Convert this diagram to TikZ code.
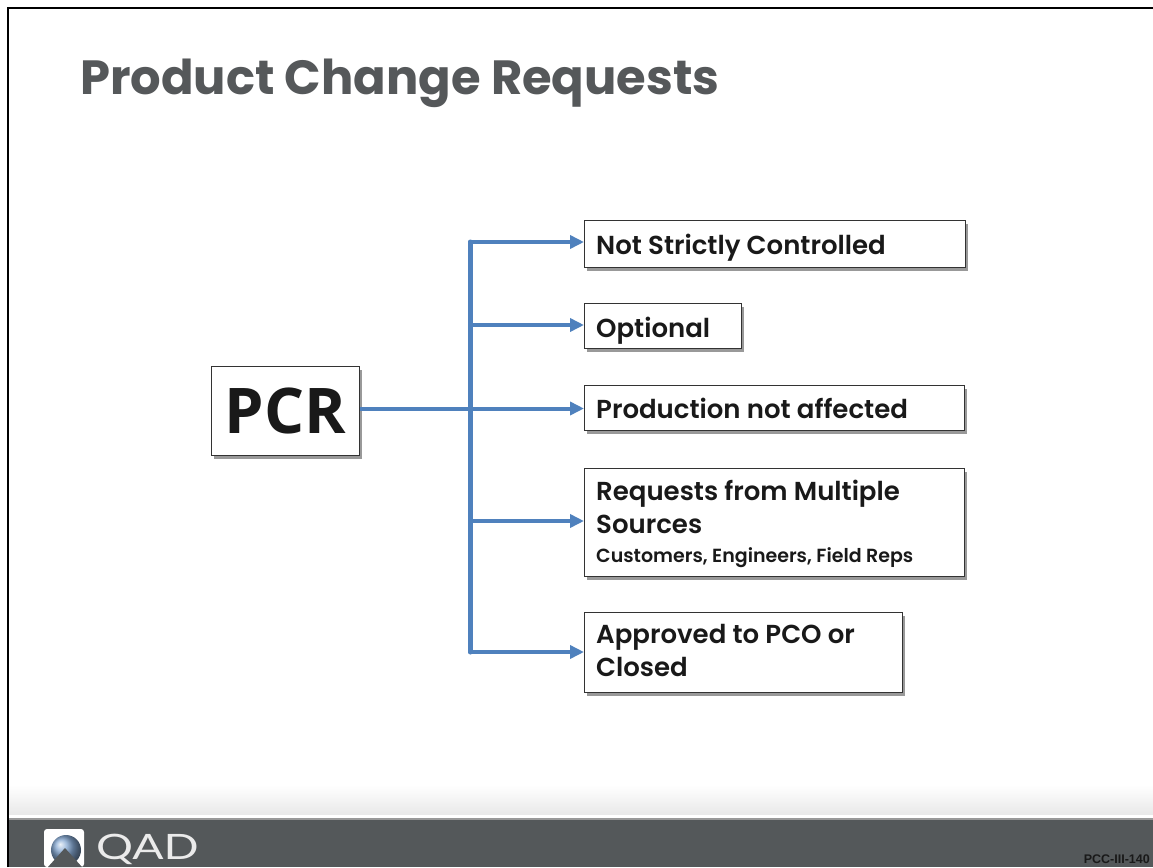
\documentclass[tikz,border=0pt]{standalone}
\usepackage{fontspec}
\setmainfont{Poppins}
\usetikzlibrary{arrows.meta,shadows}
\definecolor{conn}{HTML}{4F81BD}
\definecolor{bar}{HTML}{54585A}
\definecolor{titlec}{HTML}{55585A}
\newfontfamily\pcrfont{Open Sans}
\newfontfamily\codefont{Liberation Sans}
\newfontfamily\qadfont[FakeStretch=1.32]{Lato}
\newfontfamily\medfont{Poppins SemiBold}
\tikzset{
 x=1pt,y=-1pt,
 itembox/.style={draw=black!80,line width=1pt,fill=white,anchor=north west,inner sep=0pt,
   drop shadow={shadow xshift=2.5pt,shadow yshift=-3pt,fill=black,opacity=.4}},
 itemtext/.style={anchor=base west,align=left,inner sep=0pt,font=\medfont\fontsize{26}{33}\selectfont,text=black!90},
 conn/.style={draw=conn,line width=4pt},
 tip/.style={conn,-{Triangle[length=14pt,width=13pt,fill=conn]}},
}
\begin{document}
\begin{tikzpicture}
\useasboundingbox (0,0) rectangle (1153,867);
\fill[white] (0,0) rectangle (1153,867);
\shade[top color=white,bottom color=black!9] (8,785) rectangle (1153,815);
\fill[white] (8,815) rectangle (1153,818);
\fill[black!40] (8,818) rectangle (1153,820);
\fill[bar] (8,820) rectangle (1153,867);
\draw[black,line width=2.5pt] (8,867) -- (8,8) -- (1153,8);
\node[anchor=base west,inner sep=0pt,text=titlec,font=\fontsize{48}{50}\selectfont\bfseries] (title) at (80,94) {Product Change Requests};
% boxes
\node[itembox,minimum width=148pt,minimum height=89pt,font=\pcrfont\fontsize{63}{65}\selectfont\bfseries,text=black!90,inner sep=0pt] (pcr) at (211,366) {PCR};
\node[itembox,minimum width=381pt,minimum height=47pt] (b1) at (584,220) {};
\node[itembox,minimum width=157pt,minimum height=45pt] (b2) at (584,303) {};
\node[itembox,minimum width=380pt,minimum height=45pt] (b3) at (584,385) {};
\node[itembox,minimum width=380pt,minimum height=108pt] (b4) at (584,468) {};
\node[itembox,minimum width=318pt,minimum height=80pt] (b5) at (584,612) {};
\node[itemtext] (t1) at (596,254) {Not Strictly Controlled};
\node[itemtext] (t2) at (596,337) {Optional};
\node[itemtext] (t3) at (596,418) {Production not affected};
\node[itemtext,anchor=north west] (t4) at (596,480) {Requests from Multiple\\Sources\\[-4pt]{\fontsize{19}{24}\selectfont Customers, Engineers, Field Reps}};
\node[itemtext,anchor=north west] (t5) at (596,624) {Approved to PCO or\\Closed};
% connectors
\coordinate (j) at (470,408.5);
\coordinate (topc) at (470,242);
\coordinate (botc) at (470,652);
\draw[conn] (pcr.east |- j) -- (j);
\draw[tip] (topc) -- (b1.west |- topc);
\draw[tip] (470,325) -- (b2.west |- 0,325);
\draw[tip] (j) -- (b3.west |- j);
\draw[tip] (470,521) -- (b4.west |- 0,521);
\draw[tip] (botc) -- (b5.west |- botc);
\draw[conn,line width=5pt,line cap=round] (topc) -- (botc);
% logo
\fill[white,rounded corners=3pt] (44,829) rectangle (84,867);
\shade[ball color=conn!70!white] (66,850) circle (15);
\fill[bar] (65,848) -- (48,867) -- (82,867) -- cycle;
\node[anchor=base west,inner sep=0pt,text=white!92!black,font=\qadfont\fontsize{35}{36}\selectfont] (qad) at (96,859) {QAD};
\node[anchor=base east,inner sep=0pt,text=black!90,font=\codefont\fontsize{12.5}{14}\selectfont\bfseries] (code) at (1150,863) {PCC-III-140};
\end{tikzpicture}
\end{document}
